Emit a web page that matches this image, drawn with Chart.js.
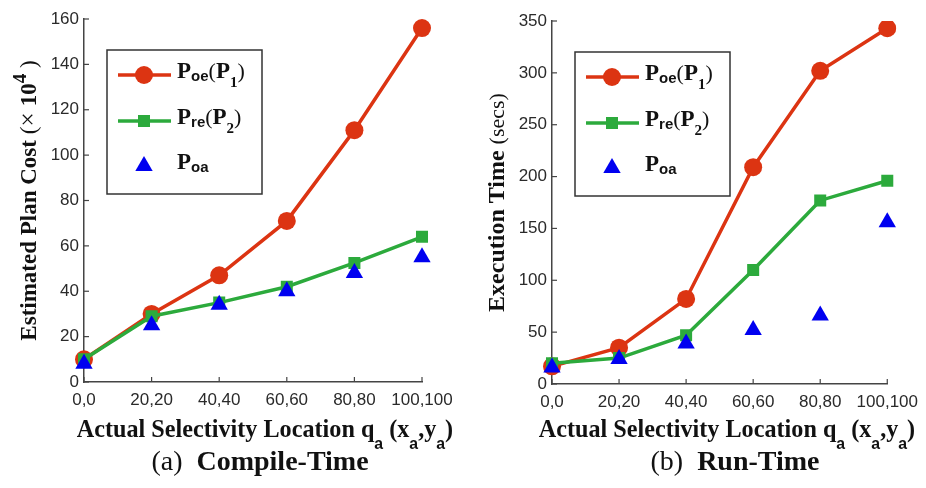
<!DOCTYPE html>
<html lang="en">
<head>
<meta charset="UTF-8" />
<title>Plan cost and execution time</title>
<script src="https://cdn.jsdelivr.net/npm/chart.js"></script>
<style>
    body {
        margin: 0;
        background: #fff;
        width: 926px;
        height: 488px;
        position: relative;
        overflow: hidden;
    }

    .panel {
        position: absolute;
        top: 0;
        width: 463px;
        height: 415px;
    }

    .xtitle, .caption {
        position: absolute;
        width: 500px;
        text-align: center;
        font-family: "Liberation Serif", serif;
        color: #111;
        white-space: nowrap;
        line-height: 1;
    }

    .xtitle {
        font-size: 26px;
        font-weight: bold;
        top: 416px;
        transform: scaleX(0.93);
    }

    .xtitle sub {
        font-family: "Liberation Sans", sans-serif;
        font-size: 17px;
        vertical-align: -12px;
        line-height: 1;
    }

    .caption {
        font-size: 28px;
        top: 447px;
    }
</style>
</head>

<body>
<div class="panel" style="left:0"><canvas id="costChart" width="463" height="415"></canvas></div>
<div class="panel" style="left:463px"><canvas id="timeChart" width="463" height="415"></canvas></div>

<div class="xtitle" style="left:15px">Actual Selectivity Location q<sub>a</sub> (x<sub>a</sub>,y<sub>a</sub>)</div>
<div class="xtitle" style="left:477px">Actual Selectivity Location q<sub>a</sub> (x<sub>a</sub>,y<sub>a</sub>)</div>
<div class="caption" style="left:10px">(a)&nbsp; <b>Compile-Time</b></div>
<div class="caption" style="left:485px">(b)&nbsp; <b>Run-Time</b></div>

<script>
    // selectivity locations (x_a, y_a)
    const locations = ['0,0', '20,20', '40,40', '60,60', '80,80', '100,100'];

    // (a) estimated plan cost, x 10^4
    const costOe = [10, 30, 47, 71, 111, 156];
    const costRe = [10, 29, 35, 42, 52.5, 64];
    const costOa = [8, 25, 34, 40, 48, 55];
    const costMax = 160;
    const costStep = 20;

    // (b) execution time, secs
    const timeOe = [17, 35, 82, 209, 302, 343];
    const timeRe = [20, 25, 47, 110, 177, 196];
    const timeOa = [16, 24, 39, 52, 66, 156];
    const timeMax = 350;
    const timeStep = 50;

    const RED = '#dc3412';
    const GREEN = '#2caa3c';
    const BLUE = '#0000f0';
    const AXIS = '#444';

    const SERIF = '"Liberation Serif", serif';
    const SANS = '"Liberation Sans", sans-serif';

    // text made of pieces: {t, font, dy}
    function richWidth(ctx, parts) {
        let w = 0;
        parts.forEach(p => { ctx.font = p.font; w += ctx.measureText(p.t).width; });
        return w;
    }

    function drawRich(ctx, parts, x, y) {
        ctx.textBaseline = 'alphabetic';
        ctx.textAlign = 'left';
        parts.forEach(p => {
            ctx.font = p.font;
            ctx.fillText(p.t, x, y + (p.dy || 0));
            x += ctx.measureText(p.t).width;
        });
    }

    function legendName(sub, num) {
        const parts = [
            { t: 'P', font: `bold 23px ${SERIF}` },
            { t: sub, font: `bold 15px ${SANS}`, dy: 3 },
        ];
        if (num) {
            parts.push({ t: '(', font: `22px ${SERIF}` });
            parts.push({ t: 'P', font: `bold 23px ${SERIF}` });
            parts.push({ t: num, font: `bold 15px ${SERIF}`, dy: 9 });
            parts.push({ t: ')', font: `22px ${SERIF}` });
        }
        return parts;
    }

    const legendRows = [
        { parts: legendName('oe', '1'), color: RED, style: 'circle', line: true },
        { parts: legendName('re', '2'), color: GREEN, style: 'rect', line: true },
        { parts: legendName('oa'), color: BLUE, style: 'triangle', line: false },
    ];

    function marker(ctx, style, x, y) {
        ctx.beginPath();
        if (style === 'circle') {
            ctx.arc(x, y, 9, 0, Math.PI * 2);
        } else if (style === 'rect') {
            ctx.rect(x - 6, y - 6, 12, 12);
        } else {
            ctx.moveTo(x, y - 10);
            ctx.lineTo(x + 8.7, y + 5);
            ctx.lineTo(x - 8.7, y + 5);
            ctx.closePath();
        }
        ctx.fill();
    }

    const decorations = {
        id: 'decorations',
        afterDraw(chart, args, opts) {
            const ctx = chart.ctx;
            const area = chart.chartArea;
            const xs = chart.scales.x;
            const ys = chart.scales.y;

            // inward tick marks
            ctx.save();
            ctx.strokeStyle = AXIS;
            ctx.lineWidth = 1.2;
            ys.ticks.forEach((t, i) => {
                const py = ys.getPixelForTick(i);
                ctx.beginPath();
                ctx.moveTo(area.left, py);
                ctx.lineTo(area.left + 5, py);
                ctx.stroke();
            });
            xs.ticks.forEach((t, i) => {
                const px = xs.getPixelForTick(i);
                ctx.beginPath();
                ctx.moveTo(px, area.bottom);
                ctx.lineTo(px, area.bottom - 5);
                ctx.stroke();
            });
            ctx.restore();

            // y axis title
            ctx.save();
            ctx.fillStyle = '#111';
            ctx.translate(opts.titleX, (area.top + area.bottom) / 2);
            ctx.rotate(-Math.PI / 2);
            const tw = richWidth(ctx, opts.title);
            drawRich(ctx, opts.title, -tw / 2, 0);
            ctx.restore();

            // legend box
            const bx = area.left + 23;
            const by = area.top + 31;
            ctx.save();
            ctx.fillStyle = '#fff';
            ctx.fillRect(bx, by, 155, 144);
            ctx.strokeStyle = '#333';
            ctx.lineWidth = 1.5;
            ctx.strokeRect(bx, by, 155, 144);
            const rowY = [25, 71, 116];
            legendRows.forEach((row, i) => {
                const ry = by + rowY[i];
                if (row.line) {
                    ctx.strokeStyle = row.color;
                    ctx.lineWidth = 3.5;
                    ctx.beginPath();
                    ctx.moveTo(bx + 11, ry);
                    ctx.lineTo(bx + 64, ry);
                    ctx.stroke();
                }
                ctx.fillStyle = row.color;
                marker(ctx, row.style, bx + 37, ry);
                ctx.fillStyle = '#111';
                drawRich(ctx, row.parts, bx + 70, ry + 2.5);
            });
            ctx.restore();
        }
    };

    function makeChart(id, oe, re, oa, max, step, yWidth, padTop, xHeight, padRight, title, titleX) {
        return new Chart(document.getElementById(id), {
            type: 'line',
            data: {
                labels: locations,
                datasets: [
                    {
                        data: oe, borderColor: RED, backgroundColor: RED, borderWidth: 3.5,
                        pointStyle: 'circle', pointRadius: 9, pointBorderWidth: 0, order: 3,
                    },
                    {
                        data: re, borderColor: GREEN, backgroundColor: GREEN, borderWidth: 3.5,
                        pointStyle: 'rect', pointRadius: 8.5, pointBorderWidth: 0, order: 2,
                    },
                    {
                        data: oa, borderColor: BLUE, backgroundColor: BLUE, showLine: false,
                        pointStyle: 'triangle', pointRadius: 10, pointBorderWidth: 0, order: 1,
                    },
                ],
            },
            options: {
                responsive: false,
                animation: false,
                layout: { padding: { left: 0, top: padTop, right: padRight, bottom: 0 } },
                plugins: {
                    legend: { display: false },
                    tooltip: { enabled: false },
                    decorations: { title, titleX },
                },
                scales: {
                    x: {
                        offset: false,
                        grid: { drawOnChartArea: false, drawTicks: false },
                        border: { display: true, color: AXIS, width: 1.5 },
                        ticks: {
                            font: { family: SANS, size: 17 }, color: '#2a2a2a',
                            padding: 8, maxRotation: 0, autoSkip: false,
                        },
                        afterFit: s => { s.height = xHeight; },
                    },
                    y: {
                        min: 0, max,
                        grid: { drawOnChartArea: false, drawTicks: false },
                        border: { display: true, color: AXIS, width: 1.5 },
                        ticks: {
                            stepSize: step, font: { family: SANS, size: 17 }, color: '#2a2a2a', padding: 5,
                        },
                        afterFit: s => { s.width = yWidth; },
                    },
                },
            },
            plugins: [decorations],
        });
    }

    makeChart('costChart', costOe, costRe, costOa, costMax, costStep, 84, 19, 33, 41, [
        { t: 'Estimated Plan Cost ', font: `bold 23px ${SERIF}` },
        { t: '(', font: `23px ${SERIF}` },
        { t: '\u00d7 ', font: `25px ${SERIF}` },
        { t: '10', font: `bold 23px ${SERIF}` },
        { t: '4', font: `bold 19px ${SERIF}`, dy: -10 },
        { t: ' )', font: `23px ${SERIF}` },
    ], 36);

    makeChart('timeChart', timeOe, timeRe, timeOa, timeMax, timeStep, 89, 21, 31, 35, [
        { t: 'Execution Time ', font: `bold 24px ${SERIF}` },
        { t: '(secs)', font: `22px ${SERIF}` },
    ], 41);
</script>
</body>
</html>
